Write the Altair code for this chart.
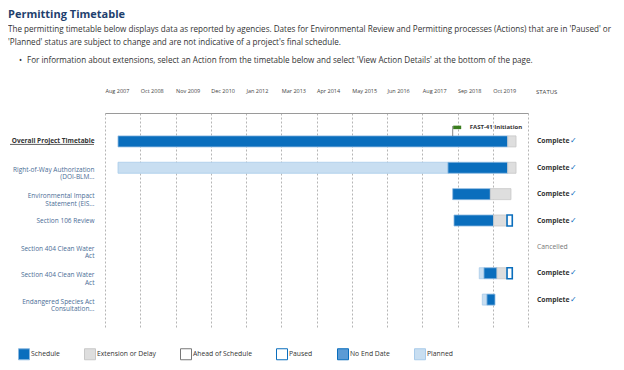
import json
import altair as alt
import pandas as pd

# ---------------- data ----------------
ROWS = ["1", "2", "3", "4", "5", "6", "7"]
ROW_LABELS = [
    ["Overall Project Timetable"],
    ["Right-of-Way Authorization", "(DOI-BLM..."],
    ["Environmental Impact", "Statement (EIS..."],
    ["Section 106 Review"],
    ["Section 404 Clean Water", "Act"],
    ["Section 404 Clean Water", "Act"],
    ["Endangered Species Act", "Consultation..."],
]
STATUS = ["Complete", "Complete", "Complete", "Complete", "Cancelled", "Complete", "Complete"]

SEG_ROW = ["1", "1",
           "2", "2", "2",
           "3", "3",
           "4", "4", "4",
           "6", "6", "6", "6",
           "7", "7"]
SEG_TYPE = ["Schedule", "Extension or Delay",
            "Planned", "Schedule", "Extension or Delay",
            "Schedule", "Extension or Delay",
            "Schedule", "Extension or Delay", "Paused",
            "Planned", "Schedule", "Extension or Delay", "Paused",
            "Planned", "Schedule"]
SEG_START = ["2008-01-21", "2020-04-08",
             "2008-01-21", "2018-05-25", "2020-04-08",
             "2018-07-18", "2019-09-22",
             "2018-08-02", "2019-10-30", "2020-03-31",
             "2019-05-18", "2019-07-11", "2019-12-07", "2020-03-31",
             "2019-06-22", "2019-08-14"]
SEG_END = ["2020-04-08", "2020-07-12",
           "2018-05-25", "2020-04-08", "2020-07-12",
           "2019-09-22", "2020-05-15",
           "2019-10-30", "2020-03-31", "2020-05-30",
           "2019-07-11", "2019-12-07", "2020-03-31", "2020-05-30",
           "2019-08-14", "2019-11-14"]

FLAG_ROW = ["1"]
FLAG_DATE = ["2018-07-18"]
FLAG_LABEL = ["FAST-41 Initiation"]

# axis tick dates (labels Aug 2007 ... Oct 2019, last = right edge)
TICK_DATES = ["2007-08-25", "2008-10-02", "2009-11-09", "2010-12-17", "2012-01-25",
              "2013-03-03", "2014-04-11", "2015-05-20", "2016-06-26", "2017-08-04",
              "2018-09-11", "2019-10-20", "2020-11-26"]

LEGEND_TYPES = ["Schedule", "Extension or Delay", "Ahead of Schedule", "Paused", "No End Date", "Planned"]
LEGEND_FILLS = ["#0a6ebd", "#dedede", "#ffffff", "#ffffff", "#5b9bd5", "#c8def1"]
LEGEND_STROKES = ["#8ab8e0", "#c8c8c8", "#777777", "#0a6ebd", "#0a6ebd", "#a8cbea"]

# ---------------- build ----------------
def ms(d):
    return int(pd.Timestamp(d, tz="UTC").value // 10**6)

tick_ms = [ms(d) for d in TICK_DATES]
x_domain = [tick_ms[0], tick_ms[-1]]

seg = pd.DataFrame({"row": SEG_ROW, "type": SEG_TYPE, "start": SEG_START, "end": SEG_END})
status = pd.DataFrame({"row": ROWS, "status": STATUS})
flag = pd.DataFrame({"row": FLAG_ROW, "date": FLAG_DATE, "label": FLAG_LABEL})

label_map = {r: (l if len(l) > 1 else l[0]) for r, l in zip(ROWS, ROW_LABELS)}
label_expr = json.dumps(label_map) + "[datum.value]"
single_rows = json.dumps([r for r, l in zip(ROWS, ROW_LABELS) if len(l) == 1])

W, H = 423, 215
FONT = "Open Sans"

yscale = alt.Scale(domain=ROWS, paddingOuter=0.577, paddingInner=0)
y_axis = alt.Axis(
    title=None, orient="left", ticks=False, domain=False, grid=False,
    labelExpr=label_expr, labelAlign="right", labelBaseline="top",
    labelPadding=11, labelFontSize=6.5, labelLineHeight=7.5,
    labelOffset=alt.expr("indexof(%s, datum.value) >= 0 ? -3 : -1" % single_rows),
    labelLimit=200, labelFont=FONT,
    labelColor=alt.expr("datum.value == '1' ? '#333333' : '#4a6d96'"),
    labelFontWeight=alt.expr("datum.value == '1' ? 'bold' : 'normal'"),
)
x_axis = alt.Axis(
    title=None, orient="top", values=tick_ms, tickCount=60,
    labelExpr="datum.value >= %d ? '' : utcFormat(datum.value, '%%b %%Y')" % tick_ms[-1],
    labelAlign="left", labelPadding=20, labelFontSize=5.5, labelColor="#444444",
    labelFont=FONT, labelFlush=False, labelOverlap=False, labelBound=False,
    ticks=False, domain=True, domainColor="#9a9a9a", domainWidth=1,
    grid=True, gridDash=[2, 2], gridColor="#b5b5b5", gridWidth=1,
)
xscale = alt.Scale(type="utc", domain=x_domain, nice=False)

legend = alt.Legend(
    orient="none", legendX=-87, legendY=235, direction="horizontal", title=None,
    symbolType="square", symbolSize=121, symbolStrokeWidth=1,
    labelFontSize=6.8, labelColor="#333333", labelFont=FONT, columnPadding=22,
    labelOffset=1, padding=0, columns=6,
)

X_START = alt.X("start:T", scale=xscale, axis=x_axis)
X_DATE = alt.X("date:T", scale=xscale, axis=x_axis)
Y_ROW = alt.Y("row:N", scale=yscale, axis=y_axis, sort=ROWS)

bars = alt.Chart(seg).mark_bar(size=11).encode(
    x=X_START,
    x2="end:T",
    y=Y_ROW,
    fill=alt.Fill("type:N", scale=alt.Scale(domain=LEGEND_TYPES, range=LEGEND_FILLS), legend=legend),
    stroke=alt.Stroke("type:N", scale=alt.Scale(domain=LEGEND_TYPES, range=LEGEND_STROKES), legend=legend),
    strokeWidth=alt.condition("datum.type == 'Paused'", alt.value(1.6), alt.value(0.8)),
)

pole = alt.Chart(flag).mark_tick(orient="vertical", size=10, thickness=1, yOffset=-10.5, color="#555555").encode(
    x=X_DATE, y=Y_ROW
)
flagbox = alt.Chart(flag).mark_tick(orient="horizontal", size=8, thickness=3.5, xOffset=4.5,
                                    yOffset=-14, color="#3a7d1e", opacity=1).encode(
    x=X_DATE, y=Y_ROW
)
flagtext = alt.Chart(flag).mark_text(align="left", baseline="middle", dx=17, yOffset=-14,
                                     fontSize=6, fontWeight="bold", color="#333333", font=FONT).encode(
    x=X_DATE, y=Y_ROW, text="label:N"
)

underline = alt.Chart(status[status.row == "1"]).mark_rule(yOffset=3, color="#333333", strokeWidth=0.8).encode(
    y=Y_ROW, x=alt.value(-95), x2=alt.value(-11)
)

complete_text = alt.Chart(status[status.status == "Complete"]).mark_text(
    align="left", baseline="middle", fontSize=6.8, font=FONT, fontWeight="bold", color="#333333"
).encode(x=alt.value(W + 9), y=Y_ROW, text="status:N")
other_text = alt.Chart(status[status.status != "Complete"]).mark_text(
    align="left", baseline="middle", fontSize=6.8, font=FONT, color="#777777"
).encode(x=alt.value(W + 9), y=Y_ROW, text="status:N")
checks = alt.Chart(status[status.status == "Complete"]).mark_text(
    align="left", baseline="middle", fontSize=8, fontWeight="bold", color="#0a6ebd", font="DejaVu Sans"
).encode(x=alt.value(W + 42), y=Y_ROW, text=alt.value("✓"))

header = alt.Chart(pd.DataFrame({"t": ["STATUS"]})).mark_text(
    align="left", baseline="middle", fontSize=6, color="#444444", font=FONT
).encode(x=alt.value(W + 8), y=alt.value(-21), text="t:N")

LINE1 = ("The permitting timetable below displays data as reported by agencies. Dates for Environmental "
         "Review and Permitting processes (Actions) that are in 'Paused' or")
LINE2 = "'Planned' status are subject to change and are not indicative of a project's final schedule."
BULLET = ("For information about extensions, select an Action from the timetable below and select "
          "'View Action Details' at the bottom of the page.")

bullet_dot = alt.Chart(pd.DataFrame({"t": ["\u2022"]})).mark_text(
    align="left", baseline="middle", fontSize=8.1, color="#333333", font=FONT
).encode(x=alt.value(-86), y=alt.value(-52), text="t:N")
bullet_text = alt.Chart(pd.DataFrame({"t": [BULLET]})).mark_text(
    align="left", baseline="middle", fontSize=8.1, color="#333333", font=FONT
).encode(x=alt.value(-78), y=alt.value(-52), text="t:N")

chart = alt.layer(bars, pole, flagbox, flagtext, underline, complete_text, other_text, checks,
                  header, bullet_dot, bullet_text).properties(
    width=W, height=H,
    title=alt.Title(
        text="Permitting Timetable",
        subtitle=[LINE1, LINE2],
        anchor="start", frame="group", dx=-97, offset=10,
        font=FONT, fontSize=11, fontWeight="bold", color="#1f3f6e",
        subtitleFont=FONT, subtitleFontSize=8.1, subtitleColor="#333333",
        subtitleLineHeight=13, subtitlePadding=6,
    ),
    autosize=alt.AutoSizeParams(type="none"),
    padding={"left": 97, "top": 105, "right": 88, "bottom": 34},
).configure(font=FONT).configure_view(strokeWidth=0, stroke="transparent")

chart.save("out.html", embed_options={"renderer": "svg", "actions": False})
